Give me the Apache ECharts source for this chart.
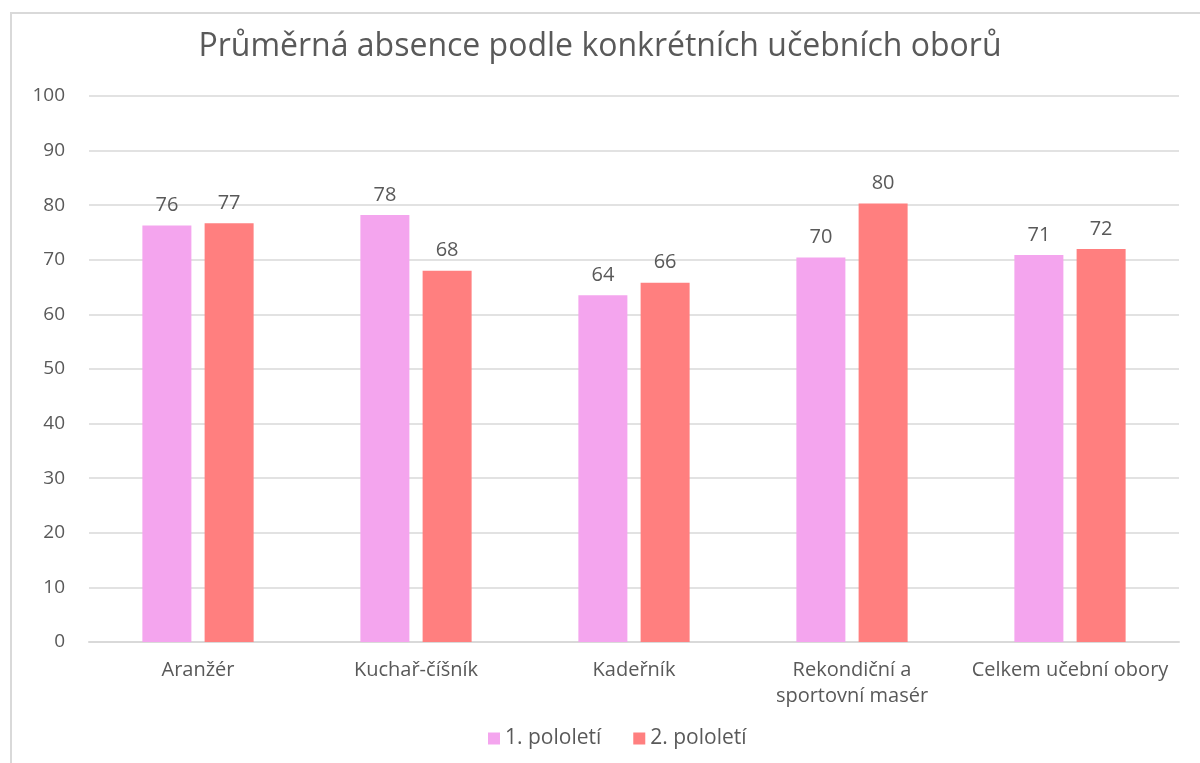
<!DOCTYPE html>
<html>
<head>
<meta charset="utf-8">
<script src="https://cdn.jsdelivr.net/npm/echarts@6/dist/echarts.min.js"></script>
<style>
    html, body { margin: 0; padding: 0; background: #fff; }
    #frame {
        position: absolute; left: 10px; top: 12px; width: 1190px; height: 751px;
        border-left: 2px solid #d9d9d9; border-top: 2px solid #d9d9d9;
        box-sizing: border-box;
    }
    #chart { position: absolute; left: 0; top: 0; width: 1200px; height: 763px; }
</style>
</head>
<body>
<div id="frame"></div>
<div id="chart"></div>
<script>
// kategorie a hodnoty
const categories = ['Aranžér', 'Kuchař-číšník', 'Kadeřník', 'Rekondiční a\nsportovní masér', 'Celkem učební obory'];
const seriesNames = ['1. pololetí', '2. pololetí'];
const pololeti1 = [76.3, 78.2, 63.5, 70.4, 70.9];
const pololeti2 = [76.7, 68.0, 65.8, 80.3, 72.0];

const FONT = '"Open Sans", Lato, sans-serif';
const TXT = '#595959';

const chart = echarts.init(document.getElementById('chart'));

function barSeries(name, data, color) {
    return {
        name: name,
        type: 'bar',
        data: data,
        barWidth: 49,
        barGap: '27%',
        itemStyle: { color: color },
        label: {
            show: true,
            position: 'top',
            distance: 10,
            color: TXT,
            fontFamily: FONT,
            fontSize: 20,
            formatter: p => Math.round(p.value)
        }
    };
}

chart.setOption({
    animation: false,
    textStyle: { fontFamily: FONT },
    title: {
        text: 'Průměrná absence podle konkrétních učebních oborů',
        left: 'center',
        top: 26,
        textStyle: { color: TXT, fontSize: 32, fontWeight: 'normal', fontFamily: FONT }
    },
    legend: {
        data: seriesNames,
        bottom: 9,
        left: 483,
        itemWidth: 12,
        itemHeight: 12,
        itemGap: 32,
        icon: 'rect',
        textStyle: { color: TXT, fontSize: 21, fontFamily: FONT }
    },
    grid: { left: 89, right: 21, top: 96, bottom: 121 },
    xAxis: {
        type: 'category',
        data: categories,
        axisLine: { lineStyle: { color: '#d9d9d9', width: 2 } },
        axisTick: { show: false },
        axisLabel: { color: TXT, fontSize: 20, fontFamily: FONT, margin: 15, lineHeight: 26, interval: 0 }
    },
    yAxis: {
        type: 'value',
        min: 0,
        max: 100,
        interval: 10,
        axisLine: { show: false },
        axisTick: { show: false },
        splitLine: { lineStyle: { color: '#d9d9d9', width: 1.5 } },
        axisLabel: { color: TXT, fontSize: 19, fontFamily: FONT, margin: 24 }
    },
    series: [
        barSeries(seriesNames[0], pololeti1, '#F4A5EE'),
        barSeries(seriesNames[1], pololeti2, '#FF7F7F')
    ]
});
</script>
</body>
</html>
